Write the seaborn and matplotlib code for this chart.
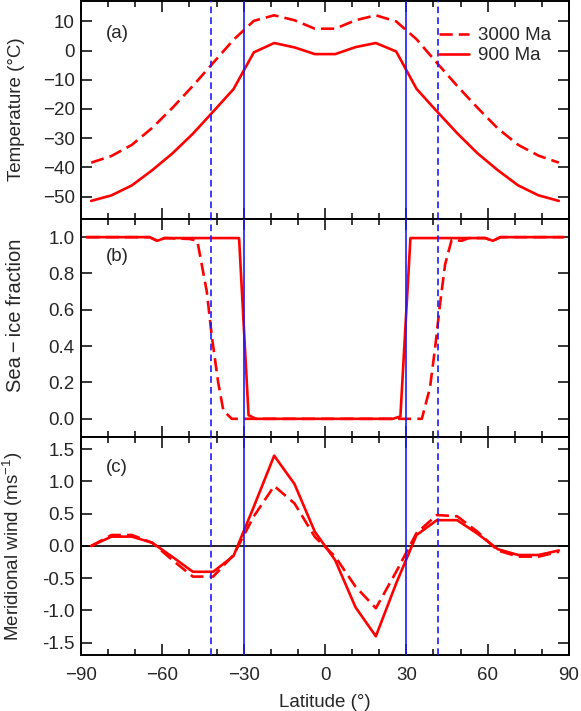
import matplotlib
matplotlib.use("Agg")
import matplotlib.pyplot as plt
from matplotlib.ticker import MultipleLocator, FormatStrFormatter
import seaborn as sns

# latitude grid of the atmosphere model (deg)
lat = [-86.25, -78.75, -71.25, -63.75, -56.25, -48.75, -41.25, -33.75,
       -26.25, -18.75, -11.25, -3.75, 3.75, 11.25, 18.75, 26.25,
       33.75, 41.25, 48.75, 56.25, 63.75, 71.25, 78.75, 86.25]

# (a) surface temperature (degC)
temp_3000 = [-38.4, -36.1, -32.3, -26.5, -19.6, -12.1, -4.2, 3.7,
             10.2, 12.1, 10.4, 7.5, 7.5, 10.4, 12.1, 10.0,
             3.9, -4.2, -12.1, -19.6, -26.7, -32.3, -36.0, -38.4]
temp_900 = [-51.5, -49.6, -46.2, -41.0, -35.2, -28.5, -20.9, -13.2,
            -0.6, 2.6, 1.1, -1.2, -1.2, 1.2, 2.6, -0.3,
            -13.1, -20.8, -28.3, -35.2, -41.0, -46.2, -49.6, -51.5]

# (b) sea-ice fraction (ocean grid, only where it changes)
ice_lat_3000 = [-88.0, -64.7, -61.9, -59.1, -50.0, -47.1, -43.6, -41.8,
                -39.4, -37.5, -34.4, 35.7, 38.7, 40.6, 42.4, 44.3,
                46.7, 50.4, 53.0, 59.1, 61.9, 64.7, 88.0]
ice_3000 = [1.0, 1.0, 0.98, 0.995, 0.99, 0.98, 0.70, 0.46,
            0.20, 0.046, 0.0, 0.0, 0.17, 0.39, 0.63, 0.85,
            0.985, 0.98, 0.995, 0.995, 0.98, 1.0, 1.0]
ice_lat_900 = [-88.0, -64.7, -61.9, -59.1, -31.7, -28.2, -25.5,
               25.0, 27.8, 31.5, 59.1, 61.9, 64.7, 88.0]
ice_900 = [1.0, 1.0, 0.98, 0.995, 0.995, 0.02, 0.0,
           0.0, 0.013, 0.995, 0.995, 0.98, 1.0, 1.0]

# (c) meridional wind (m/s)
wind_3000 = [0.0, 0.17, 0.17, 0.05, -0.22, -0.475, -0.475, -0.14,
             0.46, 0.93, 0.66, 0.14, -0.165, -0.63, -0.965, -0.40,
             0.20, 0.48, 0.46, 0.22, -0.07, -0.165, -0.165, -0.09]
wind_900 = [0.0, 0.145, 0.145, 0.05, -0.17, -0.40, -0.40, -0.155,
            0.61, 1.40, 0.96, 0.22, -0.22, -0.95, -1.40, -0.58,
            0.17, 0.40, 0.40, 0.19, -0.05, -0.14, -0.14, -0.07]

# ice-edge latitudes (blue lines)
edge_900 = [-30, 30]
edge_3000 = [-42, 41.7]

sns.set_style("ticks")
plt.rcParams['font.family'] = ['Liberation Sans', 'DejaVu Sans']
plt.rcParams['font.size'] = 13.5
plt.rcParams['mathtext.fontset'] = 'custom'
plt.rcParams['mathtext.rm'] = 'Liberation Sans'
plt.rcParams['axes.linewidth'] = 1.4
plt.rcParams['axes.edgecolor'] = 'black'

fig = plt.figure(figsize=(5.81, 7.11), dpi=100)
left, width, height = 0.1394, 0.840, 0.3066
ax_a = fig.add_axes([left, 0.6920, width, height])
ax_b = fig.add_axes([left, 0.3854, width, height])
ax_c = fig.add_axes([left, 0.0788, width, height])

RED = '#ff0000'
BLUE = '#1a1aff'


def red_pair(ax, x1, y1, x2, y2, legend=False):
    sns.lineplot(x=x1, y=y1, ax=ax, color=RED, lw=1.9, sort=False,
                 label='3000 Ma' if legend else None)
    ax.lines[-1].set_dashes((5, 2.3))
    sns.lineplot(x=x2, y=y2, ax=ax, color=RED, lw=1.9, sort=False,
                 label='900 Ma' if legend else None)


def blue_lines(ax):
    for x in edge_900:
        ax.axvline(x, color=BLUE, lw=1.2, zorder=5)
    for x in edge_3000:
        ax.axvline(x, color=BLUE, lw=1.2, dashes=(4, 2.5), zorder=5)


ax_c.axhline(0, color='black', lw=1.2, zorder=1)

red_pair(ax_a, lat, temp_3000, lat, temp_900, legend=True)
red_pair(ax_b, ice_lat_3000, ice_3000, ice_lat_900, ice_900)
red_pair(ax_c, lat, wind_3000, lat, wind_900)

for ax, tag, ty in zip([ax_a, ax_b, ax_c], ['(a)', '(b)', '(c)'], [0.85, 0.83, 0.86]):
    blue_lines(ax)
    ax.set_xlim(-90, 90)
    ax.xaxis.set_major_locator(MultipleLocator(30))
    ax.xaxis.set_minor_locator(MultipleLocator(10))
    ax.tick_params(which='both', direction='in', top=True, right=True,
                   width=1.3, labelsize=13.5)
    ax.tick_params(axis='x', pad=9)
    ax.tick_params(axis='y', pad=4.5)
    ax.tick_params(which='major', length=8)
    ax.tick_params(which='minor', length=4)
    ax.text(0.05, ty, tag, transform=ax.transAxes, va='center', fontsize=13.5)
    ax.set_xlabel('')

ax_a.set_ylim(-57.7, 17)
ax_a.yaxis.set_major_locator(MultipleLocator(10))
ax_a.set_ylabel('Temperature (°C)', fontsize=13.5)
ax_a.tick_params(labelbottom=False)
ax_a.legend(loc='upper right', bbox_to_anchor=(0.99, 0.94), frameon=False,
            handlelength=1.6, handletextpad=0.5, labelspacing=0.15,
            fontsize=13.5, borderaxespad=0.3)

ax_b.set_ylim(-0.1, 1.1)
ax_b.yaxis.set_major_locator(MultipleLocator(0.2))
ax_b.yaxis.set_major_formatter(FormatStrFormatter('%.1f'))
ax_b.set_ylabel('Sea\u2009\u2212\u2009ice fraction', fontsize=14.5)
ax_b.tick_params(labelbottom=False)

ax_c.set_ylim(-1.69, 1.69)
ax_c.yaxis.set_major_locator(MultipleLocator(0.5))
ax_c.yaxis.set_major_formatter(FormatStrFormatter('%.1f'))
ax_c.set_ylabel(r'Meridional wind (ms$^{\mathregular{-1}}$)', fontsize=13.5)
ax_c.set_xlabel('Latitude (°)', fontsize=13.5, labelpad=6.5)

ax_a.yaxis.set_label_coords(-0.115, 0.505)
ax_b.yaxis.set_label_coords(-0.115, 0.56)
ax_c.yaxis.set_label_coords(-0.115, 0.5)

fig.savefig('out.png', dpi=100)
